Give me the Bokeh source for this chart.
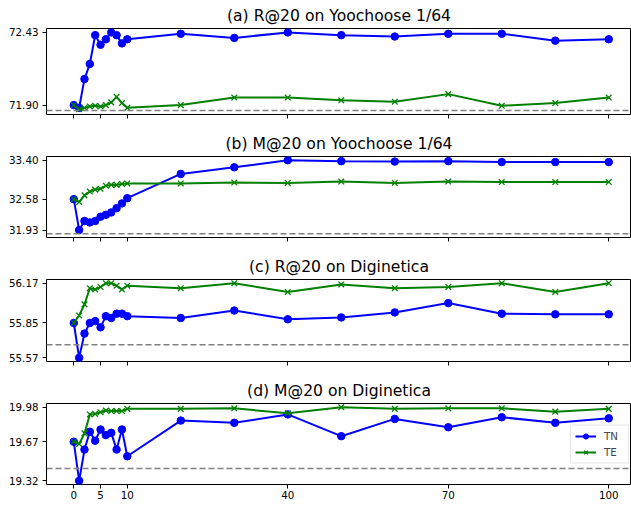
from bokeh.plotting import figure
from bokeh.layouts import column
from bokeh.models import Range1d, FixedTicker, Span, PrintfTickFormatter
from bokeh.embed import file_html
from bokeh.resources import INLINE

# ---------------- data ----------------
x_vals = [0, 1, 2, 3, 4, 5, 6, 7, 8, 9, 10, 20, 30, 40, 50, 60, 70, 80, 90, 100]
x_ticks = [0, 5, 10, 40, 70, 100]

titles = ["(a) R@20 on Yoochoose 1/64", "(b) M@20 on Yoochoose 1/64",
          "(c) R@20 on Diginetica", "(d) M@20 on Diginetica"]

a_tn = [71.90, 71.88, 72.09, 72.20, 72.41, 72.34, 72.38, 72.43, 72.41, 72.35,
        72.38, 72.42, 72.39, 72.43, 72.41, 72.40, 72.42, 72.42, 72.37, 72.38]
a_te = [71.90, 71.87, 71.88, 71.89, 71.895, 71.89, 71.90, 71.92, 71.96, 71.915,
        71.88, 71.90, 71.955, 71.955, 71.935, 71.925, 71.98, 71.895, 71.915, 71.955]
a_base = 71.86
a_yticks = [71.90, 72.43]

b_tn = [32.58, 31.93, 32.12, 32.09, 32.12, 32.21, 32.25, 32.30, 32.39, 32.49,
        32.60, 33.11, 33.25, 33.40, 33.38, 33.37, 33.38, 33.36, 33.36, 33.36]
b_te = [32.58, 32.52, 32.66, 32.74, 32.78, 32.80, 32.86, 32.88, 32.88, 32.90,
        32.91, 32.91, 32.93, 32.92, 32.95, 32.92, 32.95, 32.94, 32.94, 32.94]
b_base = 31.85
b_yticks = [31.93, 32.58, 33.40]

c_tn = [55.85, 55.57, 55.765, 55.85, 55.865, 55.815, 55.905, 55.89, 55.925, 55.925,
        55.905, 55.89, 55.95, 55.88, 55.895, 55.935, 56.01, 55.925, 55.92, 55.92]
c_te = [55.85, 55.91, 56.00, 56.13, 56.12, 56.14, 56.17, 56.17, 56.15, 56.12,
        56.15, 56.13, 56.17, 56.10, 56.16, 56.13, 56.14, 56.17, 56.10, 56.17]
c_base = 55.675
c_yticks = [55.57, 55.85, 56.17]

d_tn = [19.67, 19.32, 19.60, 19.76, 19.68, 19.78, 19.73, 19.75, 19.60, 19.78,
        19.54, 19.86, 19.84, 19.915, 19.72, 19.875, 19.80, 19.89, 19.84, 19.88]
d_te = [19.67, 19.65, 19.745, 19.915, 19.92, 19.935, 19.95, 19.945, 19.945, 19.945,
        19.965, 19.965, 19.97, 19.925, 19.98, 19.965, 19.97, 19.97, 19.94, 19.965]
d_base = 19.43
d_yticks = [19.32, 19.67, 19.98]

series_names = ["TN", "TE"]
# ---------------------------------------

FONT = "DejaVu Sans"
panels = [
    (titles[0], a_tn, a_te, a_base, a_yticks),
    (titles[1], b_tn, b_te, b_base, b_yticks),
    (titles[2], c_tn, c_te, c_base, c_yticks),
    (titles[3], d_tn, d_te, d_base, d_yticks),
]
heights = [128, 123, 124, 130]
tops = [26, 21, 22, 21]
bottoms = [14, 14, 14, 21]

figs = []
for i, (title, tn, te, base, yticks) in enumerate(panels):
    last = i == len(panels) - 1
    vals = tn + te + [base]
    lo, hi = min(vals), max(vals)
    pad = 0.05 * (hi - lo)
    p = figure(width=631, height=heights[i],
               x_range=Range1d(-5.1, 104.25), y_range=Range1d(lo - pad, hi + pad),
               output_backend="svg", toolbar_location=None, title=title,
               min_border_left=46, min_border_right=0,
               min_border_top=tops[i], min_border_bottom=bottoms[i])
    p.title.text_font = FONT
    p.title.text_font_size = "15.6px"
    p.title.text_font_style = "normal"
    p.title.text_color = "black"
    p.title.align = "center"
    p.title.standoff = 8

    p.grid.visible = False
    p.outline_line_color = "black"
    p.outline_line_width = 1
    p.background_fill_color = "white"
    p.border_fill_color = "white"

    for ax in (p.xaxis[0], p.yaxis[0]):
        ax.axis_line_color = None
        ax.major_tick_in = 0
        ax.major_tick_out = 4
        ax.major_tick_line_color = "black"
        ax.minor_tick_line_color = None
        ax.major_label_text_font = FONT
        ax.major_label_text_font_size = "10.3px"
        ax.major_label_text_color = "black"
        ax.major_label_standoff = 4

    p.xaxis[0].ticker = FixedTicker(ticks=x_ticks, minor_ticks=[])
    p.yaxis[0].ticker = FixedTicker(ticks=yticks, minor_ticks=[])
    p.yaxis[0].formatter = PrintfTickFormatter(format="%.2f")
    if last:
        p.xaxis[0].major_label_standoff = 2
    else:
        p.xaxis[0].major_label_overrides = {t: "" for t in x_ticks}
        p.xaxis[0].major_label_standoff = 0

    p.add_layout(Span(location=base, dimension="width", line_color="gray",
                      line_dash="6 3", line_width=1.5))

    kw_tn = dict(legend_label=series_names[0]) if last else {}
    kw_te = dict(legend_label=series_names[1]) if last else {}
    p.line(x_vals, tn, line_color="blue", line_width=2, **kw_tn)
    p.scatter(x_vals, tn, marker="circle", size=7.5, fill_color="blue",
              line_color="blue", **kw_tn)
    p.line(x_vals, te, line_color="green", line_width=2, **kw_te)
    p.scatter(x_vals, te, marker="x", size=8, line_color="green",
              line_width=1.3, **kw_te)

    if last:
        lg = p.legend[0]
        lg.location = "center_right"
        lg.margin = 2
        lg.padding = 4
        lg.spacing = 3
        lg.glyph_width = 21
        lg.glyph_height = 13
        lg.label_height = 13
        lg.label_standoff = 8
        lg.label_text_font = FONT
        lg.label_text_font_size = "10.3px"
        lg.border_line_color = "#cccccc"
        lg.border_line_width = 1
        lg.background_fill_alpha = 0.8

    figs.append(p)

layout = column(*figs, spacing=0)
open("out.html", "w").write(file_html(layout, INLINE))
